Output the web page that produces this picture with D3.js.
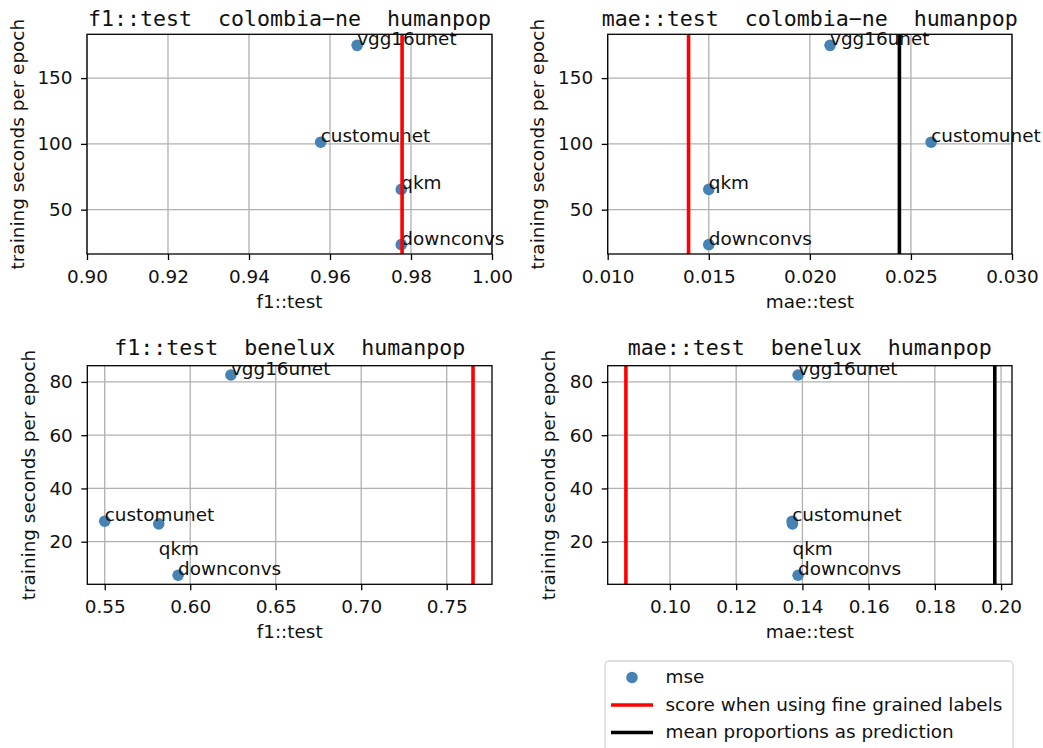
<!DOCTYPE html>
<html lang="en">
<head>
    <meta charset="UTF-8">
    <title>Training time vs score</title>
    <style>
        body { margin: 0; background: #fff; }
        svg { display: block; }
        text { font-family: "DejaVu Sans", sans-serif; fill: #111; }
        .title { font-family: "DejaVu Sans Mono", monospace; font-size: 21.6px; white-space: pre; }
        .tick text { font-size: 18.4px; font-family: "DejaVu Sans", sans-serif; fill: #111; }
    </style>
</head>
<body>

<svg id="chart" width="1043" height="748"></svg>

<script src="https://d3js.org/d3.v7.min.js"></script>
<script>
    // model names (one point per model in each panel)
    const models = ["vgg16unet", "customunet", "qkm", "downconvs"];

    // colombia-ne
    const secsColombia = [174.9, 101.3, 65.4, 23.4];
    const f1Colombia = [0.9667, 0.9577, 0.9776, 0.9776];
    const maeColombia = [0.0210, 0.0260, 0.0150, 0.0150];
    const labelSecsColombia = [174.9, 101.3, 65.4, 23.4];

    // benelux
    const secsBenelux = [82.6, 27.7, 26.7, 7.4];
    const f1Benelux = [0.6238, 0.5500, 0.5816, 0.5929];
    const maeBenelux = [0.1387, 0.1369, 0.1370, 0.1387];
    const labelSecsBenelux = [82.6, 27.7, 15.0, 7.4];

    // reference lines
    const fineF1Colombia = 0.9778;
    const fineMaeColombia = 0.0140;
    const meanMaeColombia = 0.02443;
    const fineF1Benelux = 0.7654;
    const fineMaeBenelux = 0.0867;
    const meanMaeBenelux = 0.1981;

    // tick labels
    const xTicksF1Colombia = [0.90, 0.92, 0.94, 0.96, 0.98, 1.00];
    const xTicksMaeColombia = [0.010, 0.015, 0.020, 0.025, 0.030];
    const xTicksF1Benelux = [0.55, 0.60, 0.65, 0.70, 0.75];
    const xTicksMaeBenelux = [0.10, 0.12, 0.14, 0.16, 0.18, 0.20];
    const yTicksColombia = [50, 100, 150];
    const yTicksBenelux = [20, 40, 60, 80];

    const legendLabels = ["mse", "score when using fine grained labels", "mean proportions as prediction"];

    const fontSize = "18.4px";
    const svg = d3.select("#chart");

    function drawPanel(opt) {
        const x = d3.scaleLinear().domain(opt.xDomain).range([opt.left, opt.right]);
        const y = d3.scaleLinear().domain(opt.yDomain).range([opt.bottom, opt.top]);
        const g = svg.append("g");

        // grid
        g.selectAll(".gx").data(opt.xTicks).enter().append("line")
            .attr("x1", d => x(d)).attr("x2", d => x(d))
            .attr("y1", opt.top).attr("y2", opt.bottom)
            .style("stroke", "#b0b0b0").style("stroke-width", 1.3);
        g.selectAll(".gy").data(opt.yTicks).enter().append("line")
            .attr("x1", opt.left).attr("x2", opt.right)
            .attr("y1", d => y(d)).attr("y2", d => y(d))
            .style("stroke", "#b0b0b0").style("stroke-width", 1.3);

        // points
        g.selectAll("circle").data(models).enter().append("circle")
            .attr("cx", (d, i) => x(opt.xs[i]))
            .attr("cy", (d, i) => y(opt.ys[i]))
            .attr("r", 5.8)
            .style("fill", "#4682b4");

        // point labels
        g.selectAll(".lbl").data(models).enter().append("text")
            .attr("x", (d, i) => x(opt.xs[i]))
            .attr("y", (d, i) => y(opt.labelYs[i]))
            .style("font-size", fontSize)
            .text(d => d);

        // vertical reference lines
        opt.vlines.forEach(v => {
            g.append("line")
                .attr("x1", x(v.value)).attr("x2", x(v.value))
                .attr("y1", opt.top).attr("y2", opt.bottom)
                .style("stroke", v.color).style("stroke-width", 3.6);
        });

        // axes
        const xAxis = g.append("g")
            .attr("transform", `translate(0,${opt.bottom})`)
            .call(d3.axisBottom(x).tickValues(opt.xTicks).tickFormat(d3.format(opt.xFormat))
                .tickSize(6).tickPadding(9.6));
        const yAxis = g.append("g")
            .attr("transform", `translate(${opt.left},0)`)
            .call(d3.axisLeft(y).tickValues(opt.yTicks).tickSize(6).tickPadding(8.5));
        [xAxis, yAxis].forEach(a => {
            a.select(".domain").remove();
            a.selectAll(".tick line").style("stroke", "#000").style("stroke-width", 1.3);
        });

        // frame
        g.append("rect")
            .attr("x", opt.left).attr("y", opt.top)
            .attr("width", opt.right - opt.left).attr("height", opt.bottom - opt.top)
            .style("fill", "none").style("stroke", "#000").style("stroke-width", 1.3);

        // titles and axis labels
        g.append("text")
            .attr("class", "title")
            .attr("x", (opt.left + opt.right) / 2).attr("y", opt.titleY)
            .attr("text-anchor", "middle")
            .text(opt.title);
        g.append("text")
            .attr("x", (opt.left + opt.right) / 2).attr("y", opt.bottom + 54)
            .attr("text-anchor", "middle")
            .style("font-size", fontSize)
            .text(opt.xLabel);
        g.append("text")
            .attr("transform", `translate(${opt.yLabelX},${(opt.top + opt.bottom) / 2}) rotate(-90)`)
            .attr("text-anchor", "middle")
            .style("font-size", fontSize)
            .text("training seconds per epoch");
    }

    drawPanel({
        left: 87, right: 492, top: 34.3, bottom: 254,
        xDomain: [0.90, 1.00], yDomain: [16.3, 183.3],
        xs: f1Colombia, ys: secsColombia, labelYs: labelSecsColombia,
        xTicks: xTicksF1Colombia, yTicks: yTicksColombia, xFormat: ".2f",
        vlines: [{value: fineF1Colombia, color: "#ff0000"}],
        title: "f1::test  colombia\u2212ne  humanpop", titleY: 25.5,
        xLabel: "f1::test", yLabelX: 24
    });

    drawPanel({
        left: 607.7, right: 1012, top: 34.3, bottom: 254,
        xDomain: [0.010, 0.030], yDomain: [16.3, 183.3],
        xs: maeColombia, ys: secsColombia, labelYs: labelSecsColombia,
        xTicks: xTicksMaeColombia, yTicks: yTicksColombia, xFormat: ".3f",
        vlines: [{value: fineMaeColombia, color: "#ff0000"}, {value: meanMaeColombia, color: "#000"}],
        title: "mae::test  colombia\u2212ne  humanpop", titleY: 25.5,
        xLabel: "mae::test", yLabelX: 544
    });

    drawPanel({
        left: 87.3, right: 492, top: 365.7, bottom: 584.3,
        xDomain: [0.5398, 0.7765], yDomain: [4.0, 86.1],
        xs: f1Benelux, ys: secsBenelux, labelYs: labelSecsBenelux,
        xTicks: xTicksF1Benelux, yTicks: yTicksBenelux, xFormat: ".2f",
        vlines: [{value: fineF1Benelux, color: "#ff0000"}],
        title: "f1::test  benelux  humanpop", titleY: 355,
        xLabel: "f1::test", yLabelX: 35
    });

    drawPanel({
        left: 607.7, right: 1012, top: 365.7, bottom: 584.3,
        xDomain: [0.0812, 0.2033], yDomain: [4.0, 86.1],
        xs: maeBenelux, ys: secsBenelux, labelYs: labelSecsBenelux,
        xTicks: xTicksMaeBenelux, yTicks: yTicksBenelux, xFormat: ".2f",
        vlines: [{value: fineMaeBenelux, color: "#ff0000"}, {value: meanMaeBenelux, color: "#000"}],
        title: "mae::test  benelux  humanpop", titleY: 355,
        xLabel: "mae::test", yLabelX: 555
    });

    // legend
    const legend = svg.append("g").attr("transform", "translate(605,661)");
    legend.append("rect")
        .attr("width", 408).attr("height", 110).attr("rx", 4)
        .style("fill", "#fff").style("stroke", "#d6d6d6").style("stroke-width", 1.3);
    legendLabels.forEach((label, i) => {
        const cy = 16.5 + i * 27.5;
        if (i === 0) {
            legend.append("circle").attr("cx", 27).attr("cy", cy).attr("r", 5.8).style("fill", "#4682b4");
        } else {
            legend.append("line")
                .attr("x1", 6).attr("x2", 48).attr("y1", cy).attr("y2", cy)
                .style("stroke", i === 1 ? "#ff0000" : "#000").style("stroke-width", 3.6);
        }
        legend.append("text")
            .attr("x", 60.5).attr("y", cy + 5.5)
            .style("font-size", fontSize)
            .text(label);
    });
</script>
</body>
</html>
